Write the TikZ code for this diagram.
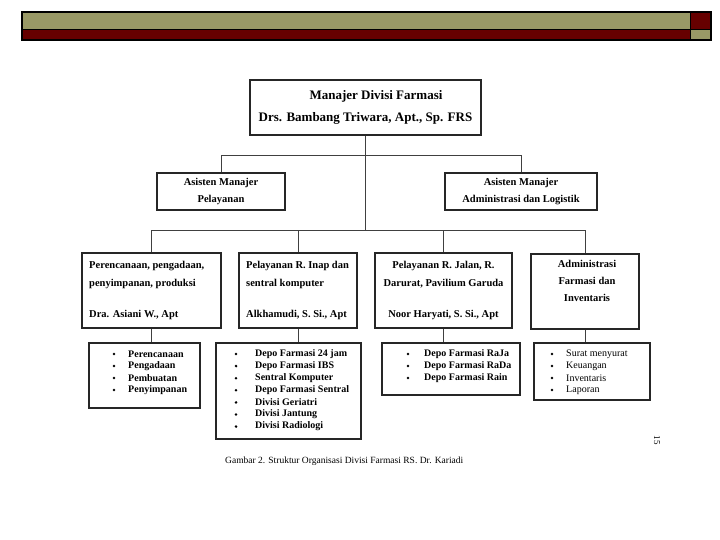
\documentclass[tikz,border=0pt]{standalone}
\usepackage{fontspec}
\setmainfont{Liberation Serif}
\definecolor{olivebar}{RGB}{153,153,102}
\definecolor{redbar}{RGB}{102,0,0}
\begin{document}
\begin{tikzpicture}[x=1pt,y=-1pt,
  box/.style={draw=black!85, line width=1.1pt, rectangle, inner sep=0pt},
  conn/.style={draw=black!75, line width=0.5pt},
  bigtxt/.style={font=\fontsize{13}{15}\selectfont\bfseries, inner sep=0pt},
  midtxt/.style={font=\fontsize{10.5}{12}\selectfont\bfseries, inner sep=0pt},
  smtxt/.style={font=\fontsize{10}{11}\selectfont\bfseries, inner sep=0pt, anchor=west},
  bul/.style={circle, fill=black, inner sep=0pt, minimum size=2.8pt}]
\useasboundingbox (0,0) rectangle (720,540);
% header bar
\fill[olivebar] (22,12) rectangle (690,29.5);
\fill[redbar] (22,29.5) rectangle (690,40);
\fill[redbar] (690,12) rectangle (711,29.5);
\fill[olivebar] (690,29.5) rectangle (711,40);
\draw[line width=1.2pt] (22,12) rectangle (711,40);
\draw[line width=1pt] (22,29.5) -- (711,29.5);
\draw[line width=1pt] (690,12) -- (690,40);

% manager
\node[box, minimum width=231pt, minimum height=55pt] (man) at (365.5,107.5) {};
\node[bigtxt] (mant1) at (376,96) {Manajer Divisi Farmasi};
\node[bigtxt] (mant2) at (365.5,118) {Drs. Bambang Triwara, Apt., Sp. FRS};

% assistants
\node[box, minimum width=128pt, minimum height=37pt] (asl) at (221,191.5) {};
\node[midtxt] (aslt1) at (221,183) {Asisten Manajer};
\node[midtxt] (aslt2) at (221,200) {Pelayanan};
\node[box, minimum width=152pt, minimum height=37pt] (asr) at (521,191.5) {};
\node[midtxt] (asrt1) at (521,183) {Asisten Manajer};
\node[midtxt] (asrt2) at (521,200) {Administrasi dan Logistik};

% level 3
\node[box, minimum width=139pt, minimum height=75pt] (la) at (151.5,290.5) {};
\node[box, minimum width=118pt, minimum height=75pt] (lb) at (298,290.5) {};
\node[box, minimum width=137pt, minimum height=75pt] (lc) at (443.5,290.5) {};
\node[box, minimum width=108pt, minimum height=75pt] (ld) at (585,291.5) {};

\node[midtxt, anchor=west] (lat1) at (89,266) {Perencanaan, pengadaan,};
\node[midtxt, anchor=west] (lat2) at (89,284) {penyimpanan, produksi};
\node[midtxt, anchor=west] (lat3) at (89,315) {Dra. Asiani W., Apt};

\node[midtxt, anchor=west] (lbt1) at (246,266) {Pelayanan R. Inap dan};
\node[midtxt, anchor=west] (lbt2) at (246,284) {sentral komputer};
\node[midtxt, anchor=west] (lbt3) at (246,315) {Alkhamudi, S. Si., Apt};

\node[midtxt] (lct1) at (443.5,266) {Pelayanan R. Jalan, R.};
\node[midtxt] (lct2) at (443.5,284) {Darurat, Pavilium Garuda};
\node[midtxt] (lct3) at (443.5,315) {Noor Haryati, S. Si., Apt};

\node[midtxt] (ldt1) at (587,264) {Administrasi};
\node[midtxt] (ldt2) at (587,281) {Farmasi dan};
\node[midtxt] (ldt3) at (587,298) {Inventaris};

% level 4
\node[box, minimum width=111pt, minimum height=65pt] (ka) at (144.5,375.5) {};
\node[box, minimum width=145pt, minimum height=96pt] (kb) at (288.5,391) {};
\node[box, minimum width=138pt, minimum height=52pt] (kc) at (451,369) {};
\node[box, minimum width=116pt, minimum height=57pt] (kd) at (592,371.5) {};

\foreach \t [count=\i] in {Perencanaan,Pengadaan,Pembuatan,Penyimpanan}{
  \node[bul] (ba\i) at (114,342+12*\i) {};
  \node[smtxt] (ta\i) at (128,342+12*\i) {\t};
}
\foreach \t [count=\i] in {Depo Farmasi 24 jam,Depo Farmasi IBS,Sentral Komputer,Depo Farmasi Sentral,Divisi Geriatri,Divisi Jantung,Divisi Radiologi}{
  \node[bul] (bb\i) at (236,341.9+12.1*\i) {};
  \node[smtxt] (tb\i) at (255,341.9+12.1*\i) {\t};
}
\foreach \t [count=\i] in {Depo Farmasi RaJa,Depo Farmasi RaDa,Depo Farmasi Rain}{
  \node[bul] (bc\i) at (408,342+12*\i) {};
  \node[smtxt] (tc\i) at (424,342+12*\i) {\t};
}
\foreach \t [count=\i] in {Surat menyurat,Keuangan,Inventaris,Laporan}{
  \node[bul] (bd\i) at (552,342+12*\i) {};
  \node[smtxt, font=\fontsize{10}{11}\selectfont] (td\i) at (566,342+12*\i) {\t};
}

% connectors
\coordinate (busA) at (365.5,155);
\coordinate (busB) at (365.5,230);
\draw[conn] (man.south) -- (busB);
\draw[conn] (asl.north) -- (asl.north |- busA) -- (asr.north |- busA) -- (asr.north);
\draw[conn] (la.north) -- (la.north |- busB) -- (ld.north |- busB) -- (ld.north);
\draw[conn] (lb.north) -- (lb.north |- busB);
\draw[conn] (lc.north) -- (lc.north |- busB);
\draw[conn] (la.south) -- (la.south |- ka.north);
\draw[conn] (lb.south) -- (lb.south |- kb.north);
\draw[conn] (lc.south) -- (lc.south |- kc.north);
\draw[conn] (ld.south) -- (ld.south |- kd.north);

% caption
\node[inner sep=0pt, font=\fontsize{9.5}{11}\selectfont, anchor=west] (cap) at (225,461) {Gambar 2. Struktur Organisasi Divisi Farmasi RS. Dr. Kariadi};
\node[inner sep=0pt, font=\fontsize{9}{10}\selectfont, rotate=-90] (pg) at (657,440) {15};
\end{tikzpicture}
\end{document}
